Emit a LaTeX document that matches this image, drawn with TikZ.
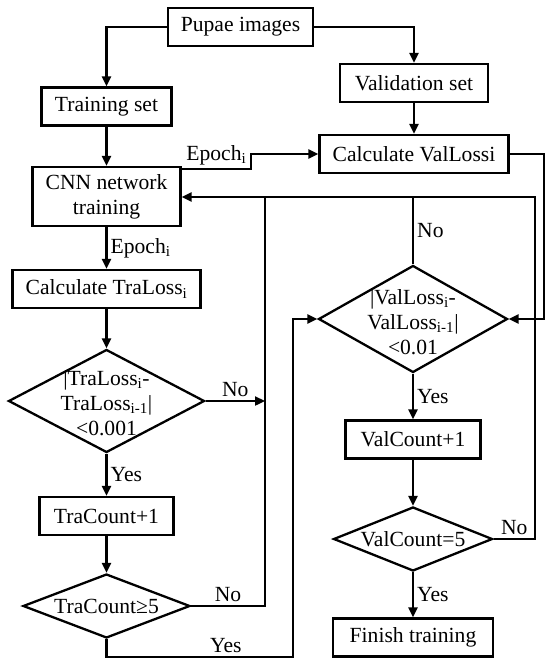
\documentclass[tikz,border=0pt]{standalone}
\usepackage{fontspec}
\setmainfont{Liberation Serif}
\usetikzlibrary{shapes.geometric,arrows.meta}

\begin{document}
\begin{tikzpicture}[x=1pt,y=-1pt,
  font=\fontsize{21.6}{25}\selectfont,
  box/.style={draw, line width=2.3pt, minimum height=38pt, inner sep=0pt, align=center},
  dia/.style={draw, diamond, line width=2.3pt, inner sep=0pt},
  dtext/.style={align=center, inner sep=0pt},
  wire/.style={line width=2.3pt},
  arr/.style={wire, -{Triangle[length=10pt,width=9pt]}},
  lbl/.style={inner sep=3pt}]
  \useasboundingbox (0,0) rectangle (550,663);

  % boxes and decisions
  \node[box, minimum width=145pt] (pupae) at (240.5,27) {Pupae images};
  \node[box, minimum width=130pt] (trainset) at (106.5,106.5) {Training set};
  \node[box, minimum width=148pt] (valset) at (414,83) {Validation set};
  \node[box, minimum width=189pt] (calcVal) at (414,154) {Calculate ValLossi};
  \node[box, minimum width=148pt, minimum height=59pt] (cnn) at (106.5,196.5) {CNN network\\training};
  \node[box, minimum width=188pt] (calcTra) at (106.5,289) {Calculate TraLoss\textsubscript{i}};
  \node[dia, minimum width=196pt, minimum height=103pt] (lossTra) at (106.5,401) {};
  \node[dtext] (lossTraT) at ([yshift=-2pt]lossTra) {|TraLoss\textsubscript{i}-\\TraLoss\textsubscript{i-1}|\\<0.001};
  \node[box, minimum width=134pt] (incTra) at (106.5,516) {TraCount+1};
  \node[dia, minimum width=167pt, minimum height=64pt] (checkTra) at (106.5,606) {};
  \node[dtext] (checkTraT) at (checkTra) {TraCount≥5};
  \node[dia, minimum width=189pt, minimum height=107pt] (lossVal) at (413,319) {};
  \node[dtext] (lossValT) at ([yshift=-3pt]lossVal) {|ValLoss\textsubscript{i}-\\ValLoss\textsubscript{i-1}|\\<0.01};
  \node[box, minimum width=135pt] (incVal) at (413,439.5) {ValCount+1};
  \node[dia, minimum width=159pt, minimum height=64pt] (checkVal) at (413,539) {};
  \node[dtext] (checkValT) at (checkVal) {ValCount=5};
  \node[box, minimum width=160pt] (finish) at (413,637.5) {Finish training};

  % turning points
  \coordinate (fbL) at (265,197);
  \coordinate (fbR) at (535,197);
  \coordinate (outR) at (544,319);
  \coordinate (stepE) at (251,169);
  \coordinate (yesTurn) at (293,657);

  % connectors
  \draw[arr] (pupae.west) -| (trainset.north);
  \draw[arr] (pupae.east) -| (valset.north);
  \draw[arr] (trainset) -- (cnn);
  \draw[arr] (valset) -- (calcVal);
  \draw[arr] (cnn.east |- stepE) -- node[above, lbl] {Epoch\textsubscript{i}} (stepE) |- (calcVal.west);
  \draw[arr] (cnn) -- node[right, lbl] {Epoch\textsubscript{i}} (calcTra);
  \draw[arr] (calcTra) -- (lossTra);
  \draw[arr] (lossTra) -- node[right, lbl] {Yes} (incTra);
  \draw[arr] (incTra) -- (checkTra);
  \draw[arr] (lossTra.east) -- node[above, lbl] {No} (lossTra.east -| fbL);
  \draw[arr] (checkTra.east) -| node[above, pos=0.25, lbl] {No} (fbL) -- (cnn.east |- fbL);
  \draw[arr] (checkTra.south) |- node[above, pos=0.82, lbl] {Yes} (yesTurn) |- (lossVal.west);
  \draw[arr] (calcVal.east) -| (outR) -- (lossVal.east);
  \draw[wire] (lossVal.north) -- node[right, lbl] {No} (lossVal.north |- fbR);
  \draw[arr] (lossVal) -- node[right, lbl] {Yes} (incVal);
  \draw[arr] (incVal) -- (checkVal);
  \draw[wire] (checkVal.east) -| node[above, pos=0.25, lbl] {No} (fbR) -- (fbL);
  \draw[arr] (checkVal) -- node[right, lbl] {Yes} (finish);
\end{tikzpicture}
\end{document}
